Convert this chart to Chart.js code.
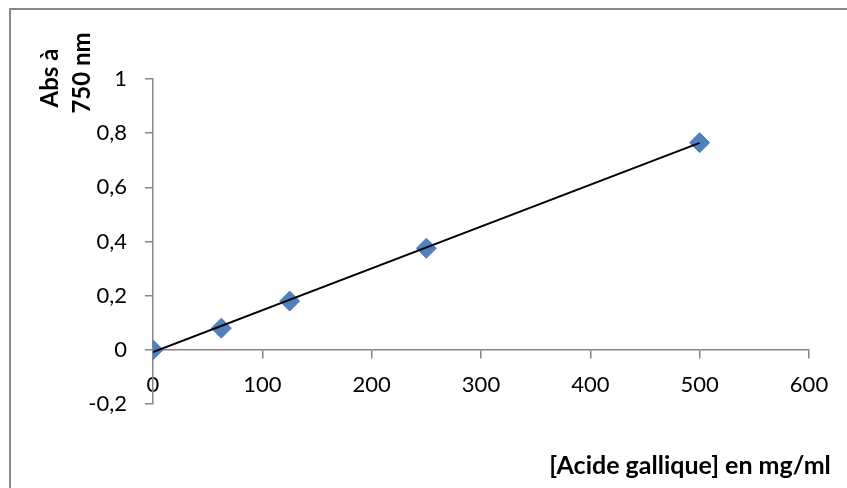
<!DOCTYPE html>
<html>
<head>
<meta charset="utf-8">
<script src="https://cdn.jsdelivr.net/npm/chart.js@4"></script>
<style>
  body { margin: 0; background: #fff; }
  canvas { display: block; }
</style>
</head>
<body>
<canvas id="abschart" width="847" height="488"></canvas>
<script>
// gallic acid calibration: concentration (mg/ml) vs absorbance at 750 nm
const concentrations = [0, 62.5, 125, 250, 500];
const absorbances = [0, 0.08, 0.18, 0.375, 0.765];

// linear trendline end points
const trendX = [0, 500];
const trendY = [-0.008, 0.764];

const xTitle = "[Acide gallique] en mg/ml";
const yTitle = ["Abs à", "750 nm"];

const axisGrey = "#868686";

Chart.defaults.font.family = "Lato";
Chart.defaults.color = "#000";

const frameAndTitles = {
  id: "frameAndTitles",
  afterDraw(chart) {
    const ctx = chart.ctx;
    ctx.save();
    // outer frame, right and bottom edges run off the canvas
    ctx.strokeStyle = "#888";
    ctx.lineWidth = 2;
    ctx.strokeRect(10, 9, 900, 600);

    ctx.fillStyle = "#000";
    ctx.font = "bold 25px Lato";
    ctx.textAlign = "center";
    ctx.textBaseline = "alphabetic";
    ctx.fillText(xTitle, 690, 474);

    ctx.font = "bold 24px Lato";
    ctx.translate(58, 78);
    ctx.rotate(-Math.PI / 2);
    ctx.fillText(yTitle[0], 0, 0);
    ctx.fillText(yTitle[1], 5, 32);
    ctx.restore();
  },
};

new Chart(document.getElementById("abschart"), {
  type: "scatter",
  data: {
    datasets: [
      {
        label: "Tendance",
        data: trendX.map((x, i) => ({ x: x, y: trendY[i] })),
        showLine: true,
        borderColor: "#000",
        borderWidth: 2,
        pointRadius: 0,
        order: 0,
      },
      {
        label: "Abs",
        data: concentrations.map((x, i) => ({ x: x, y: absorbances[i] })),
        pointStyle: "rectRot",
        pointRadius: 10,
        backgroundColor: "#4f81bd",
        borderColor: "#4a7ebb",
        borderWidth: 1,
        order: 1,
      },
    ],
  },
  options: {
    responsive: false,
    animation: false,
    layout: {
      padding: { left: 0, right: 38, top: 79, bottom: 84 },
    },
    plugins: {
      legend: { display: false },
      tooltip: { enabled: false },
    },
    scales: {
      x: {
        type: "linear",
        min: 0,
        max: 600,
        position: { y: 0 },
        grid: {
          drawOnChartArea: false,
          drawTicks: true,
          tickLength: 8,
          tickColor: axisGrey,
          lineWidth: 1.5,
        },
        border: { display: true, color: axisGrey, width: 1.5 },
        ticks: {
          stepSize: 100,
          padding: 14,
          font: { size: 22 },
          maxRotation: 0,
        },
      },
      y: {
        type: "linear",
        min: -0.2,
        max: 1,
        position: "left",
        afterFit: function (scale) {
          scale.width = 153;
        },
        grid: {
          drawOnChartArea: false,
          drawTicks: true,
          tickLength: 8,
          tickColor: axisGrey,
          lineWidth: 1.5,
        },
        border: { display: true, color: axisGrey, width: 1.5 },
        ticks: {
          stepSize: 0.2,
          padding: 18,
          font: { size: 22 },
          callback: function (value) {
            return String(Math.round(value * 10) / 10).replace(".", ",");
          },
        },
      },
    },
  },
  plugins: [frameAndTitles],
});
</script>
</body>
</html>
